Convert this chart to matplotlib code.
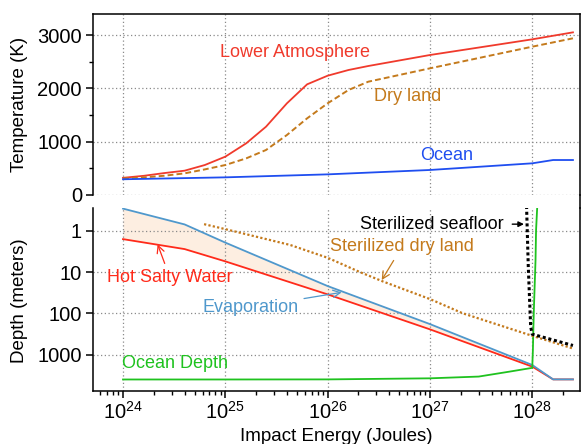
import matplotlib
matplotlib.use('Agg')
import matplotlib.pyplot as plt
from matplotlib import ticker
from matplotlib.lines import Line2D

plt.rcParams['font.family'] = ['Liberation Sans', 'DejaVu Sans']
plt.rcParams['mathtext.default'] = 'regular'

# ---- top panel: temperatures (K) ----
E_temp = [1e24, 1.6e24, 2.5e24, 4e24, 6.3e24, 1e25, 1.6e25, 2.5e25, 4e25,
          6.3e25, 1e26, 1.6e26, 2.5e26, 1e27, 1e28, 2.5e28]
T_atmos = [322, 360, 410, 456, 562, 719, 969, 1281, 1719,
           2075, 2237, 2344, 2419, 2625, 2919, 3050]
T_dry = [310, 330, 360, 406, 480, 562, 687, 844, 1125,
         1437, 1719, 1969, 2125, 2375, 2781, 2938]
E_ocean_t = [1e24, 1e25, 1e26, 1e27, 1e28, 1.6e28, 2.5e28]
T_ocean = [295, 331, 387, 469, 594, 656, 656]

# ---- bottom panel: depths (m) ----
E_depth = [1e24, 4e24, 1e25, 1e26, 1e27, 1e28, 1.6e28, 2.5e28]
d_evap = [0.29, 0.7, 1.93, 21.8, 182, 1780, 3980, 3980]
d_salty = [1.59, 2.77, 5.5, 34.7, 244, 1950, 3980, 3980]

E_sterile_land = [6.2e24, 1e25, 4.3e25, 1e26, 2.07e26, 3.5e26, 1e27, 2.1e27, 1e28, 2.5e28]
d_sterile_land = [0.69, 0.91, 2.2, 4.5, 10, 17, 45, 100, 350, 710]

E_seafloor = [8.8e27, 9.15e27, 9.65e27, 1.0e28, 2.5e28]
d_seafloor = [0.25, 7.4, 210, 320, 600]

E_ocean_d = [1e24, 1e25, 1e26, 1e27, 3e27, 6e27, 1e28, 1.015e28, 1.025e28,
             1.037e28, 1.077e28, 1.09e28, 1.12e28]
d_ocean = [4000, 4000, 3980, 3750, 3400, 2580, 2090, 776, 253,
           83, 5.1, 0.96, 0.25]

red = '#f03a2c'
brown = '#c47a1c'
blue_t = '#1f4ef0'
blue_e = '#4f98cc'
green = '#1fc21f'
gridkw = dict(color='#8a8a8a', linestyle=(0, (1, 2)), linewidth=0.9)
fs_note = 13

fig = plt.figure(figsize=(5.84, 4.44), dpi=100)
ax1 = fig.add_axes([93/584, 249/444, 487/584, 181/444])
ax2 = fig.add_axes([93/584, 53.3/444, 487/584, 182.7/444], sharex=ax1)

# top
ax1.plot(E_temp, T_atmos, color=red, lw=1.3)
ax1.plot(E_temp, T_dry, color=brown, lw=1.4, ls=(0, (3, 1.6)))
ax1.plot(E_ocean_t, T_ocean, color=blue_t, lw=1.3)
ax1.set_xscale('log')
ax1.set_xlim(5.09e23, 2.93e28)
ax1.set_ylim(0, 3394)
ax1.yaxis.set_major_locator(ticker.MultipleLocator(1000))
ax1.yaxis.set_minor_locator(ticker.MultipleLocator(500))
ax1.spines['bottom'].set_visible(False)
ax1.tick_params(axis='x', which='both', bottom=False, labelbottom=False)
ax1.grid(True, which='major', **gridkw)
ax1.set_ylabel('Temperature (K)', fontsize=13.5, va='center')
ax1.yaxis.set_label_coords(-0.15, 0.5)

ax1.text(4.85e25, 2681, 'Lower Atmosphere', color=red, fontsize=fs_note, ha='center', va='center')
ax1.text(6.07e26, 1856, 'Dry land', color=brown, fontsize=fs_note, ha='center', va='center')
ax1.text(1.44e27, 750, 'Ocean', color=blue_t, fontsize=fs_note, ha='center', va='center')

# bottom
ax2.fill_between(E_depth, d_evap, d_salty, color='#fdeee1', lw=0)
ax2.plot(E_depth, d_salty, color='#ff2a1a', lw=1.3)
ax2.plot(E_depth, d_evap, color=blue_e, lw=1.3)
ax2.plot(E_ocean_d, d_ocean, color=green, lw=1.3)
ax2.plot(E_sterile_land, d_sterile_land, color=brown, lw=1.6, ls=(0, (1, 1)))
ax2.plot(E_seafloor, d_seafloor, color='black', lw=2.2, ls=(0, (1, 0.9)))
ax2.set_yscale('log')
ax2.set_ylim(7480, 0.28)
ax2.yaxis.set_major_locator(ticker.FixedLocator([1, 10, 100, 1000]))
ax2.yaxis.set_major_formatter(ticker.FuncFormatter(lambda v, p: f'{v:g}'))
ax2.yaxis.set_minor_locator(ticker.NullLocator())
ax2.spines['top'].set_visible(False)
ax2.grid(True, which='major', **gridkw)
ax2.set_ylabel('Depth (meters)', fontsize=13.5, va='center')
ax2.yaxis.set_label_coords(-0.15, 0.49)
ax2.set_xlabel('Impact Energy (Joules)', fontsize=13.5)
ax2.xaxis.set_label_coords(0.5, -0.205)

arr = dict(arrowstyle='->', lw=0.9, shrinkA=2, shrinkB=0)
ax2.annotate('Hot Salty Water', xy=(2.18e24, 2.13), xytext=(2.87e24, 13.4),
             color='#ff2a1a', fontsize=fs_note, ha='center', va='center',
             arrowprops=dict(arr, color='#ff2a1a'))
ax2.annotate('Evaporation', xy=(1.37e26, 31), xytext=(1.76e25, 71.6),
             color=blue_e, fontsize=fs_note, ha='center', va='center',
             arrowprops=dict(arr, color=blue_e))
ax2.annotate('Sterilized dry land', xy=(3.38e26, 15.6), xytext=(5.33e26, 2.44),
             color=brown, fontsize=fs_note, ha='center', va='center',
             arrowprops=dict(arr, color=brown))
ax2.annotate('Sterilized seafloor', xy=(8.3e27, 0.69), xytext=(1.05e27, 0.69),
             color='black', fontsize=fs_note, ha='center', va='center',
             arrowprops=dict(arrowstyle='-|>', lw=1.0, color='black',
                             shrinkA=4, shrinkB=0, mutation_scale=8))
ax2.text(9.7e23, 1622, 'Ocean Depth', color=green, fontsize=fs_note, ha='left', va='center')

for ax in (ax1, ax2):
    for s in ax.spines.values():
        s.set_linewidth(1.1)
    ax.tick_params(which='major', direction='out', length=5, width=1.1, labelsize=14.5, pad=3)
    ax.tick_params(which='minor', direction='out', length=2.8, width=1.0)
    ax.tick_params(axis='x', pad=2)

# join the right-hand frame across the gap between the panels
fig.add_artist(Line2D([580/584, 580/584], [236/444, 249/444], color='black', lw=1.1))

fig.savefig('out.png', dpi=100)
